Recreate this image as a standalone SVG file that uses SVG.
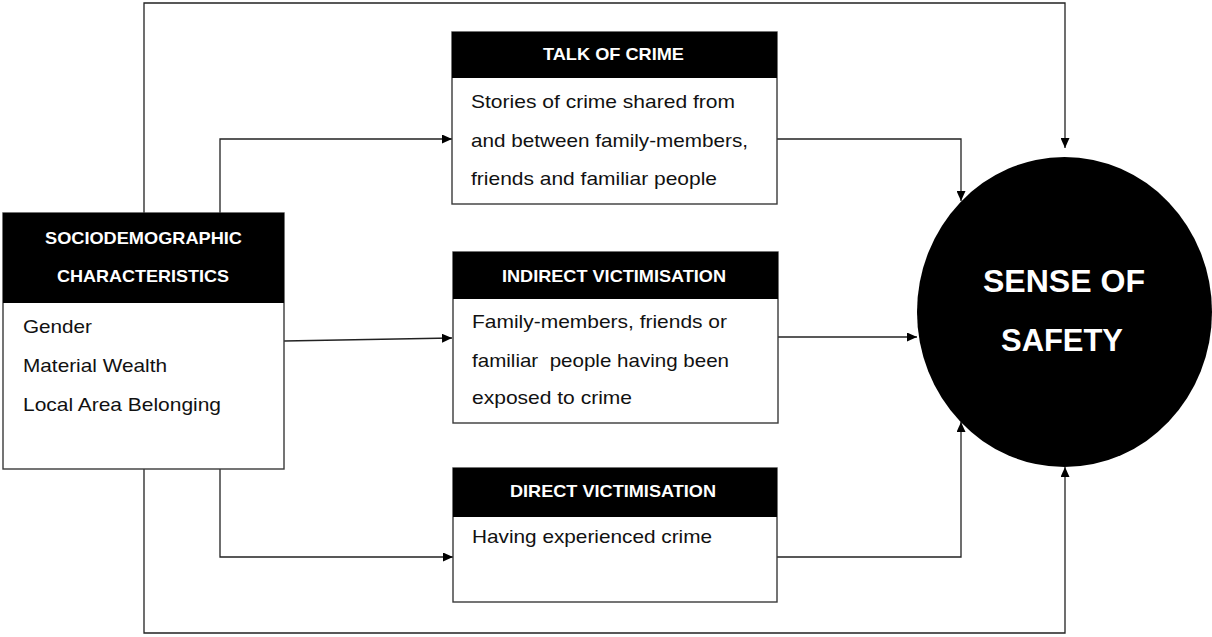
<svg xmlns="http://www.w3.org/2000/svg" width="1212" height="637" viewBox="0 0 1212 637">
<style>
.box{fill:#fff;stroke:#3a3a3a;stroke-width:1.4}
.hdr{fill:#000}
.ht{font-family:"Liberation Sans",Arial,sans-serif;font-weight:bold;font-size:17px;fill:#fff;text-anchor:start}
.bt{font-family:"Liberation Sans",Arial,sans-serif;font-size:18.5px;fill:#111}
.ct{font-family:"Liberation Sans",Arial,sans-serif;font-weight:bold;font-size:32px;fill:#fff}
.ln{fill:none;stroke:#222;stroke-width:1.3}
</style>
<defs>
<marker id="ah" markerUnits="userSpaceOnUse" markerWidth="11" markerHeight="9" refX="10" refY="4.5" orient="auto">
<path d="M0,0 L10,4.5 L0,9 z" fill="#000"/>
</marker>
</defs>
<g id="connectors">
<path class="ln" d="M144,213 V3 H1065 V148" marker-end="url(#ah)"/>
<path class="ln" d="M144,469 V633 H1065 V467" marker-end="url(#ah)"/>
<path class="ln" d="M220,213 V139 H452" marker-end="url(#ah)"/>
<path class="ln" d="M284,341 L452,338" marker-end="url(#ah)"/>
<path class="ln" d="M220,469 V557 H453" marker-end="url(#ah)"/>
<path class="ln" d="M777,139 H961 V201" marker-end="url(#ah)"/>
<path class="ln" d="M778,337 H917" marker-end="url(#ah)"/>
<path class="ln" d="M777,557 H961 V422" marker-end="url(#ah)"/>
</g>
<g id="socio">
<rect class="box" x="3" y="213" width="281" height="256"/>
<rect class="hdr" x="3" y="213" width="281" height="90"/>
<text class="ht" x="45" y="244" textLength="197" lengthAdjust="spacingAndGlyphs">SOCIODEMOGRAPHIC</text>
<text class="ht" x="57" y="282" textLength="172" lengthAdjust="spacingAndGlyphs">CHARACTERISTICS</text>
<text class="bt" x="23" y="333" textLength="69" lengthAdjust="spacingAndGlyphs">Gender</text>
<text class="bt" x="23" y="372" textLength="144" lengthAdjust="spacingAndGlyphs">Material Wealth</text>
<text class="bt" x="23" y="411" textLength="198" lengthAdjust="spacingAndGlyphs">Local Area Belonging</text>
</g>
<g id="talk">
<rect class="box" x="452" y="32" width="325" height="172"/>
<rect class="hdr" x="452" y="32" width="325" height="46"/>
<text class="ht" x="543" y="60" textLength="141" lengthAdjust="spacingAndGlyphs">TALK OF CRIME</text>
<text class="bt" x="471" y="108" textLength="264" lengthAdjust="spacingAndGlyphs">Stories of crime shared from</text>
<text class="bt" x="471" y="147" textLength="277" lengthAdjust="spacingAndGlyphs">and between family-members,</text>
<text class="bt" x="471" y="185" textLength="246" lengthAdjust="spacingAndGlyphs">friends and familiar people</text>
</g>
<g id="indirect">
<rect class="box" x="453" y="252" width="325" height="171"/>
<rect class="hdr" x="453" y="252" width="325" height="47"/>
<text class="ht" x="502" y="282" textLength="224" lengthAdjust="spacingAndGlyphs">INDIRECT VICTIMISATION</text>
<text class="bt" x="472" y="328" textLength="255" lengthAdjust="spacingAndGlyphs">Family-members, friends or</text>
<text class="bt" x="472" y="367" textLength="257" lengthAdjust="spacingAndGlyphs" xml:space="preserve">familiar  people having been</text>
<text class="bt" x="472" y="404" textLength="160" lengthAdjust="spacingAndGlyphs">exposed to crime</text>
</g>
<g id="direct">
<rect class="box" x="453" y="468" width="324" height="134"/>
<rect class="hdr" x="453" y="468" width="324" height="49"/>
<text class="ht" x="510" y="497" textLength="206" lengthAdjust="spacingAndGlyphs">DIRECT VICTIMISATION</text>
<text class="bt" x="472" y="543" textLength="240" lengthAdjust="spacingAndGlyphs">Having experienced crime</text>
</g>
<g id="safety">
<ellipse cx="1064.5" cy="312" rx="147.5" ry="155" fill="#000"/>
<text class="ct" x="983" y="292" textLength="162" lengthAdjust="spacingAndGlyphs">SENSE OF</text>
<text class="ct" x="1001" y="351" textLength="122" lengthAdjust="spacingAndGlyphs">SAFETY</text>
</g>
</svg>
